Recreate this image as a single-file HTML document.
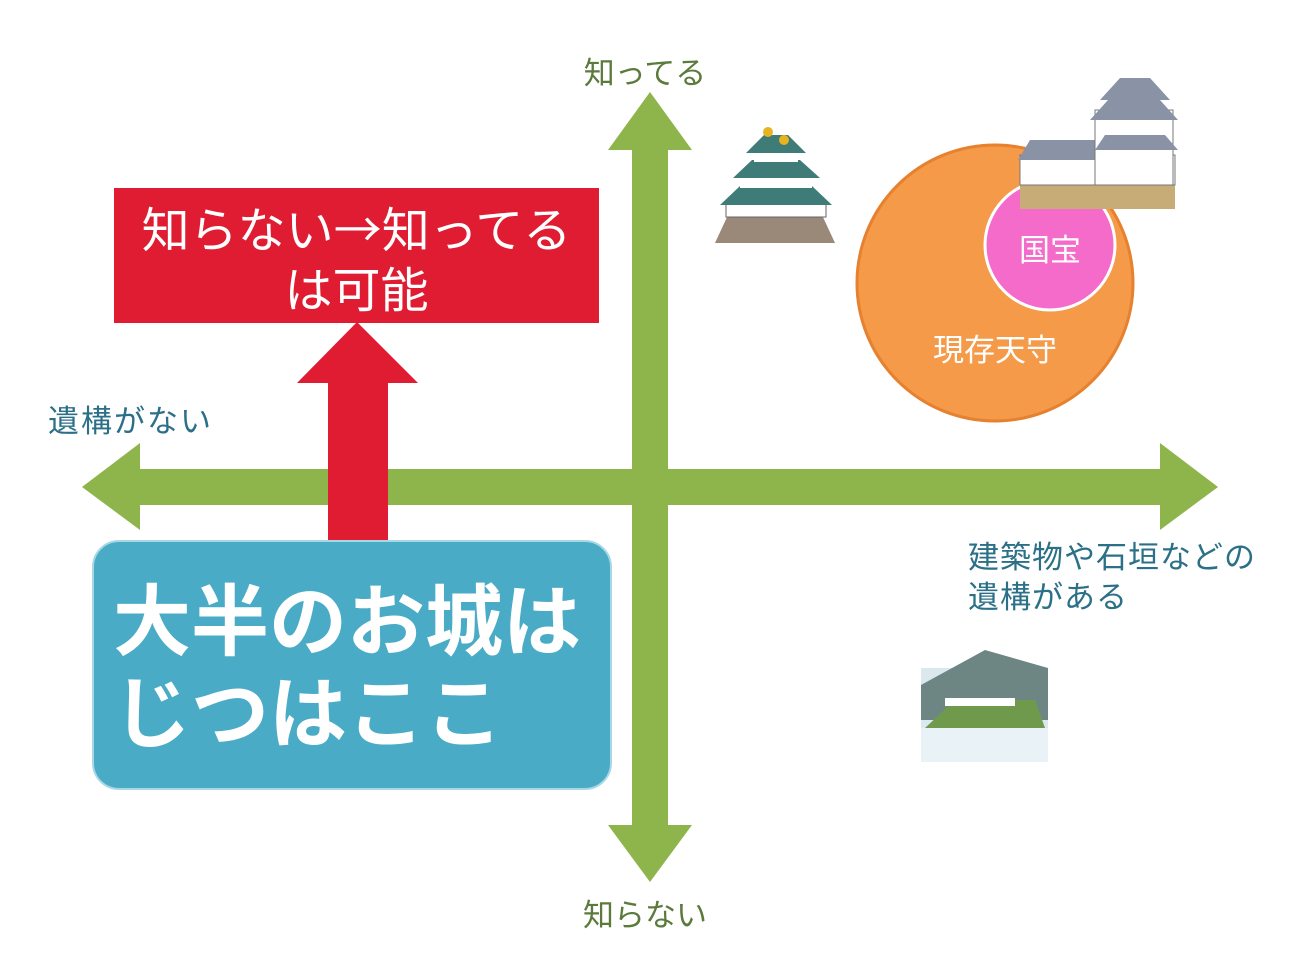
<!DOCTYPE html>
<html><head><meta charset="utf-8"><style>
html,body{margin:0;padding:0;background:#fff;}
body{width:1300px;height:975px;position:relative;overflow:hidden;font-family:"Liberation Sans","Noto Sans CJK JP",sans-serif;}
.t{position:absolute;white-space:nowrap;}
</style></head><body>
<svg width="1300" height="975" style="position:absolute;left:0;top:0">
  <polygon points="650,92 692,150 668,150 668,825 692,825 650,882 608,825 632,825 632,150 608,150" fill="#8db54b"/>
  <polygon points="82,487 140,443 140,469 1160,469 1160,443 1218,487 1160,530 1160,505 140,505 140,530" fill="#8db54b"/>
  <rect x="114" y="188" width="485" height="135" fill="#df1c31"/>
  <polygon points="357,322 418,383 388,383 388,545 328,545 328,383 297,383" fill="#df1c31"/>
  <rect x="93" y="541" width="518" height="248" rx="26" fill="#4aabc6" stroke="#a8d8e6" stroke-width="2"/>
  <circle cx="995" cy="283" r="138" fill="#f49a48" stroke="#e5812f" stroke-width="3"/>
  <circle cx="1050" cy="245" r="65" fill="#f46bca" stroke="#fff" stroke-width="3"/>
  <g>
    <polygon points="715,243 835,243 822,215 728,215" fill="#9a8878"/>
    <rect x="726" y="203" width="100" height="14" fill="#fff" stroke="#666" stroke-width="1"/>
    <polygon points="720,205 832,205 812,186 740,186" fill="#3f7c78"/>
    <rect x="740" y="176" width="72" height="12" fill="#fff"/>
    <polygon points="733,178 820,178 800,160 752,160" fill="#3f7c78"/>
    <rect x="754" y="150" width="44" height="12" fill="#fff"/>
    <polygon points="746,153 806,153 788,135 764,135" fill="#3f7c78"/>
    <circle cx="768" cy="132" r="5" fill="#e8b320"/><circle cx="784" cy="140" r="5" fill="#e8b320"/>
  </g>
  <g>
    <rect x="1020" y="185" width="155" height="24" fill="#c8ac78"/>
    <rect x="1020" y="155" width="155" height="30" fill="#fff" stroke="#777" stroke-width="1"/>
    <polygon points="1018,160 1110,160 1100,140 1030,140" fill="#8a93a6"/>
    <rect x="1095" y="110" width="78" height="75" fill="#fff" stroke="#777" stroke-width="1"/>
    <polygon points="1090,120 1178,120 1160,100 1108,100" fill="#8a93a6"/>
    <polygon points="1095,150 1178,150 1165,135 1105,135" fill="#8a93a6"/>
    <polygon points="1100,100 1170,100 1150,78 1120,78" fill="#8a93a6"/>
  </g>
  <g>
    <rect x="921" y="668" width="127" height="94" fill="#d9e9ee"/>
    <polygon points="921,685 985,650 1048,668 1048,720 921,720" fill="#6d8683"/>
    <polygon points="925,728 955,700 1035,700 1045,728" fill="#6f9a4c"/>
    <rect x="945" y="698" width="70" height="8" fill="#fff"/>
    <rect x="921" y="728" width="127" height="34" fill="#e9f2f6"/>
  </g>
</svg>
<div class="t" style="left:0;width:1290px;top:48px;text-align:center;font-size:31px;color:#5c7a3c;">知ってる</div>
<div class="t" style="left:0;width:1290px;top:890px;text-align:center;font-size:31px;color:#5c7a3c;">知らない</div>
<div class="t" style="left:48px;top:396px;font-size:31px;letter-spacing:2px;color:#2c7088;">遺構がない</div>
<div class="t" style="left:968px;top:538px;font-size:31px;line-height:40px;letter-spacing:1px;color:#2c7088;">建築物や石垣などの<br>遺構がある</div>
<div class="t" style="left:114px;width:485px;top:196px;text-align:center;font-size:48px;line-height:60px;color:#fff;">知らない<span style="font-size:48px;font-family:'Noto Sans CJK JP',sans-serif;">→</span>知ってる<br>は可能</div>
<div class="t" style="left:113px;top:576px;font-size:78px;line-height:92px;font-weight:bold;color:#fff;">大半のお城は<br>じつはここ</div>
<div class="t" style="left:985px;width:130px;top:225px;text-align:center;font-size:31px;color:#fff;">国宝</div>
<div class="t" style="left:895px;width:200px;top:325px;text-align:center;font-size:31px;color:#fff;">現存天守</div>
</body></html>
